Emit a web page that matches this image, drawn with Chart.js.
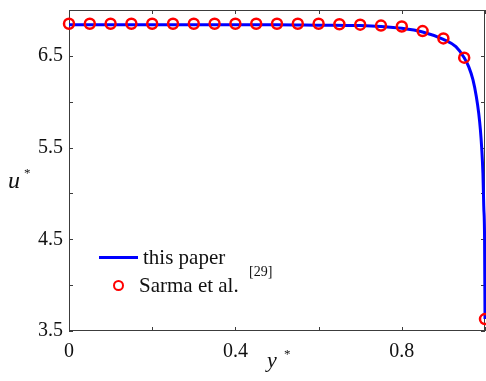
<!DOCTYPE html>
<html>
<head>
<meta charset="utf-8">
<script src="https://cdn.jsdelivr.net/npm/chart.js@4/dist/chart.umd.min.js"></script>
<style>
  html, body { margin: 0; padding: 0; background: #fff; }
  #wrap { position: relative; width: 486px; height: 381px; font-family: "Liberation Serif", "DejaVu Serif", serif; color: #111; }
  #wrap canvas { position: absolute; left: 0; top: 0; }
  .lbl { position: absolute; white-space: nowrap; line-height: 1; }
  .it { font-style: italic; }
</style>
</head>
<body>
<div id="wrap">
  <canvas id="profileChart" width="486" height="381"></canvas>
  <span class="lbl it" style="left:8px; top:168px; font-size:24px;">u</span>
  <span class="lbl" style="left:24px; top:166px; font-size:13px;">*</span>
  <span class="lbl it" style="left:267px; top:349px; font-size:22px;">y</span>
  <span class="lbl" style="left:284px; top:347px; font-size:13px;">*</span>
  <div style="position:absolute; left:99px; top:256px; width:39px; height:3px; background:#0000ff;"></div>
  <span class="lbl" style="left:143px; top:247px; font-size:21px;">this paper</span>
  <div style="position:absolute; left:113px; top:280px; width:7px; height:7px; border:2px solid #ff0000; border-radius:50%;"></div>
  <span class="lbl" style="left:139px; top:275px; font-size:21px;">Sarma et al.</span>
  <span class="lbl" style="left:249px; top:265px; font-size:14px;">[29]</span>
</div>
<script>
  const lineX = [0, 0.1, 0.2, 0.3, 0.4, 0.5, 0.6, 0.7, 0.75, 0.8, 0.85, 0.9, 0.93, 0.95, 0.961, 0.971, 0.979, 0.985, 0.989, 0.992, 0.995, 0.997, 0.999, 1.0];
  const lineY = [6.84, 6.84, 6.84, 6.84, 6.84, 6.84, 6.835, 6.83, 6.82, 6.8, 6.76, 6.68, 6.6, 6.48, 6.38, 6.24, 6.06, 5.87, 5.69, 5.5, 5.22, 4.86, 4.49, 3.63];

  const markerX = [0, 0.05, 0.1, 0.15, 0.2, 0.25, 0.3, 0.35, 0.4, 0.45, 0.5, 0.55, 0.6, 0.65, 0.7, 0.75, 0.8, 0.85, 0.9, 0.95, 1.0];
  const markerY = [6.85, 6.85, 6.85, 6.85, 6.85, 6.85, 6.85, 6.85, 6.85, 6.85, 6.85, 6.85, 6.85, 6.845, 6.84, 6.83, 6.82, 6.77, 6.69, 6.48, 3.63];

  const xLabels = [0, 0.4, 0.8];
  const yLabels = [3.5, 4.5, 5.5, 6.5];

  function pairs(xs, ys) {
    return xs.map(function (x, i) { return { x: x, y: ys[i] }; });
  }

  function hasLabel(list, v) {
    return list.some(function (t) { return Math.abs(t - v) < 1e-6; });
  }

  // frame box plus inward tick marks on all four sides
  const framePlugin = {
    id: "frame",
    beforeDatasetsDraw: function (chart) {
      const ctx = chart.ctx;
      const a = chart.chartArea;
      const xs = chart.scales.x;
      const ys = chart.scales.y;
      const len = 4;
      ctx.save();
      ctx.strokeStyle = "#3c3c3c";
      ctx.lineWidth = 1;
      ctx.strokeRect(a.left + 0.5, a.top + 0.5, a.right - a.left - 1, a.bottom - a.top - 1);
      ctx.beginPath();
      xs.ticks.forEach(function (t) {
        const px = Math.round(xs.getPixelForValue(t.value)) + 0.5;
        ctx.moveTo(px, a.bottom);
        ctx.lineTo(px, a.bottom - len);
        ctx.moveTo(px, a.top);
        ctx.lineTo(px, a.top + len);
      });
      ys.ticks.forEach(function (t) {
        const py = Math.round(ys.getPixelForValue(t.value)) + 0.5;
        ctx.moveTo(a.left, py);
        ctx.lineTo(a.left + len, py);
        ctx.moveTo(a.right, py);
        ctx.lineTo(a.right - len, py);
      });
      ctx.stroke();
      ctx.restore();
    }
  };

  const canvas = document.getElementById("profileChart");
  new Chart(canvas, {
    type: "scatter",
    data: {
      datasets: [
        {
          label: "this paper",
          data: pairs(lineX, lineY),
          showLine: true,
          borderColor: "#0000ff",
          borderWidth: 3,
          pointRadius: 0,
          cubicInterpolationMode: "monotone",
          clip: false,
          order: 2
        },
        {
          label: "Sarma et al. [29]",
          data: pairs(markerX, markerY),
          showLine: false,
          pointStyle: "circle",
          pointRadius: 5,
          pointBorderWidth: 2.5,
          pointBorderColor: "#ff0000",
          pointBackgroundColor: "rgba(255,255,255,0)",
          clip: false,
          order: 1
        }
      ]
    },
    options: {
      responsive: false,
      animation: false,
      devicePixelRatio: 1,
      layout: { autoPadding: false, padding: { top: 10, right: 1, left: 0, bottom: 0 } },
      plugins: {
        legend: { display: false },
        tooltip: { enabled: false }
      },
      scales: {
        x: {
          type: "linear",
          min: 0,
          max: 1,
          grid: { display: false, drawTicks: false },
          border: { display: false },
          afterFit: function (s) {
            s.height = 50;
            s.paddingLeft = 0;
            s.paddingRight = 0;
          },
          ticks: {
            stepSize: 0.2,
            padding: 9,
            color: "#111",
            font: { family: "Liberation Serif", size: 20 },
            maxRotation: 0,
            autoSkip: false,
            callback: function (v) { return hasLabel(xLabels, v) ? String(+v.toFixed(1)) : ""; }
          }
        },
        y: {
          min: 3.5,
          max: 7.0,
          grid: { display: false, drawTicks: false },
          border: { display: false },
          afterFit: function (s) {
            s.width = 69;
            s.paddingTop = 0;
            s.paddingBottom = 0;
          },
          ticks: {
            stepSize: 0.5,
            padding: 6,
            color: "#111",
            font: { family: "Liberation Serif", size: 20 },
            autoSkip: false,
            callback: function (v) { return hasLabel(yLabels, v) ? v.toFixed(1) : ""; }
          }
        }
      }
    },
    plugins: [framePlugin]
  });
</script>
</body>
</html>
